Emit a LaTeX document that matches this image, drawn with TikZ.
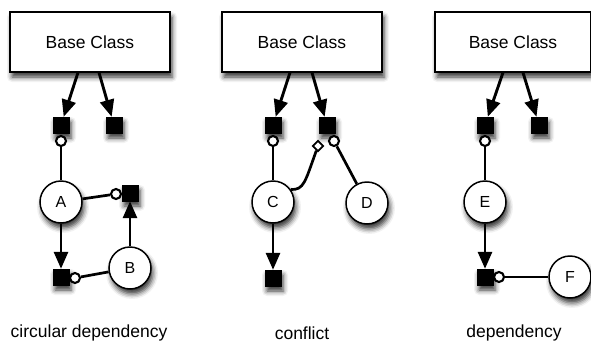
\documentclass[tikz,border=0pt]{standalone}
\usepackage{fontspec}
\setmainfont{Liberation Sans}
\usepackage{tikz}
\usetikzlibrary{arrows.meta,shapes.geometric,shadows.blur}
\tikzset{
    shd/.style={blur shadow={shadow xshift=2pt,shadow yshift=-5pt,shadow blur radius=5pt,shadow opacity=80}},
    base/.style={draw,fill=white,line width=1.1pt,minimum width=160pt,minimum height=60pt,inner sep=0pt,font=\fontsize{17.5}{20}\selectfont,shd},
    circ/.style={draw,circle,fill=white,line width=1.5pt,inner sep=0pt,minimum size=42pt,font=\fontsize{16}{18}\selectfont,shd},
    sq/.style={draw,fill=black,inner sep=0pt,minimum size=16pt,shd},
    sock/.style={draw,circle,fill=white,line width=2.1pt,inner sep=0pt,minimum size=10pt},
    diam/.style={draw,diamond,fill=white,line width=1.7pt,inner sep=0pt,minimum size=11pt},
    lnk/.style={line width=2.7pt},
    arr/.style={line width=2.9pt,-{Triangle[length=17pt,width=14pt]}},
    lbl/.style={font=\fontsize{17.5}{20}\selectfont}}

\begin{document}
\begin{tikzpicture}[x=1pt,y=-1pt]
\useasboundingbox (0,0) rectangle (591,343);
    % circular dependency
    \node (B1)[base] at (90,42) {Base Class};
    \node (s1)[sq] at (61,125) {};
    \node (s2)[sq] at (114,125) {};
    \node (o1)[sock] at (61,141) {};
    \node (A)[circ] at (61,202) {A};
    \node (s3)[sq] at (130,193) {};
    \node (o2)[sock] at (116,194) {};
    \node (s4)[sq] at (61,277) {};
    \node (o3)[sock] at (75,278) {};
    \node (B)[circ] at (130,268) {B};
    \node (L1)[lbl] at (89,333) {circular dependency};

    \draw[arr] ([xshift=-12pt]B1.south) -- (s1);
    \draw[arr] ([xshift=9pt]B1.south) -- (s2);
    \draw[lnk] (o1) -- (A);
    \draw[lnk] (A) -- (o2);
    \draw[arr] (A) -- (s4);
    \draw[lnk] (B) -- (o3);
    \draw[arr] (B) -- (s3);

    % conflict
    \node (B2)[base] at (302,42) {Base Class};
    \node (s5)[sq] at (273,125) {};
    \node (s6)[sq] at (327,125) {};
    \node (o4)[sock] at (273,141) {};
    \node (d1)[diam] at (318,146) {};
    \node (o5)[sock] at (334,141) {};
    \node (C)[circ] at (273,202) {C};
    \node (D)[circ] at (367,203) {D};
    \node (s7)[sq] at (273,278) {};
    \node (L2)[lbl] at (302,333) {conflict};

    \draw[arr] ([xshift=-12pt]B2.south) -- (s5);
    \draw[arr] ([xshift=10pt]B2.south) -- (s6);
    \draw[lnk] (o4) -- (C);
    \draw[lnk] (d1) .. controls (305,182) and (304,190) .. (C.35);
    \draw[lnk] (o5) -- (D);
    \draw[arr] (C) -- (s7);

    % dependency
    \node (B3)[base,minimum width=156pt] at (513,42) {Base Class};
    \node (s8)[sq] at (485,125) {};
    \node (s9)[sq] at (539,125) {};
    \node (o6)[sock] at (485,141) {};
    \node (E)[circ] at (485,202) {E};
    \node (s10)[sq] at (485,277) {};
    \node (o7)[sock] at (499,277) {};
    \node (F)[circ] at (570,277) {F};
    \node (L3)[lbl] at (514,333) {dependency};

    \draw[arr] ([xshift=-10pt]B3.south) -- (s8);
    \draw[arr] ([xshift=10pt]B3.south) -- (s9);
    \draw[lnk] (o6) -- (E);
    \draw[arr] (E) -- (s10);
    \draw[lnk] (F) -- (o7);
\end{tikzpicture}
\end{document}
